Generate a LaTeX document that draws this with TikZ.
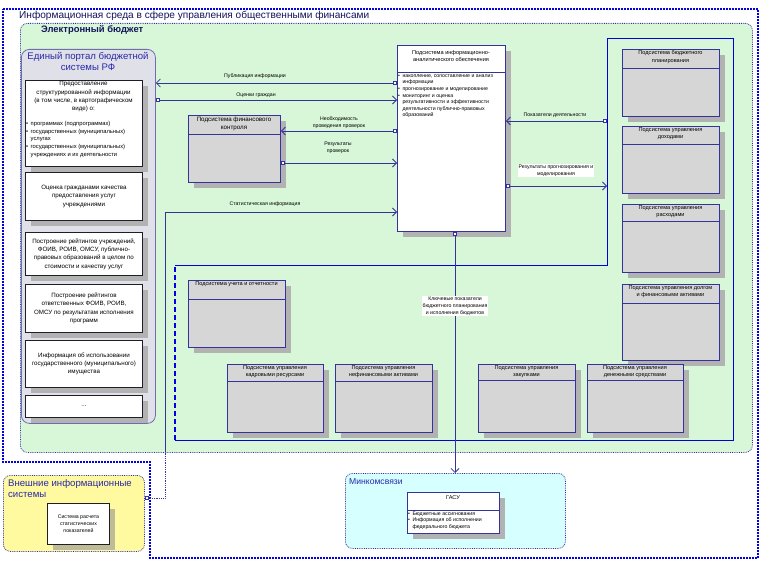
\documentclass[tikz,border=0pt]{standalone}
\usepackage{fontspec}
\setmainfont{Liberation Sans}
\usetikzlibrary{arrows.meta,shadows}

\definecolor{navy}{RGB}{51,51,153}
\definecolor{navyd}{RGB}{20,20,90}
\definecolor{framebl}{RGB}{0,0,225}
\definecolor{greenbg}{RGB}{216,247,216}
\definecolor{portalbg}{RGB}{224,224,232}
\definecolor{portalln}{RGB}{110,110,175}
\definecolor{subfill}{RGB}{214,214,214}
\definecolor{shadowc}{RGB}{178,178,178}
\definecolor{olivesh}{RGB}{190,188,150}
\definecolor{yellowbg}{RGB}{255,249,160}
\definecolor{cyanbg}{RGB}{214,255,255}
\definecolor{titleblue}{RGB}{40,40,170}
\definecolor{boxln}{RGB}{30,30,40}

\newcommand\titlef{\fontsize{10.1}{11}\selectfont}
\newcommand\ebf{\fontsize{9.4}{11}\selectfont\bfseries}
\newcommand\portalf{\fontsize{9.6}{11}\selectfont}
\newcommand\boxf{\fontsize{6.2}{8.3}\selectfont}
\newcommand\bulf{\fontsize{5.8}{7.7}\selectfont}
\newcommand\hdrf{\fontsize{5.6}{7.2}\selectfont}
\newcommand\lblf{\fontsize{5.2}{6.8}\selectfont}
\newcommand\iasf{\fontsize{5.2}{6.6}\selectfont}

\tikzset{
  sqm/.tip={Square[length=4pt,width=4pt,fill=white,line width=0.7pt]},
  brb/.tip={Straight Barb[length=4pt,width=8pt,line width=0.8pt]},
  conn/.style={draw=navy, line width=0.8pt},
  subbox/.style={draw=navy, line width=0.9pt, fill=subfill, inner sep=0pt,
    drop shadow={shadow xshift=6pt, shadow yshift=-6pt, fill=shadowc, opacity=1}},
  whitebox/.style={draw=boxln, line width=0.9pt, fill=white, inner sep=0pt,
    drop shadow={shadow xshift=6pt, shadow yshift=-6pt, fill=shadowc, opacity=1}},
  hdrline/.style={draw=navy, line width=0.8pt},
  hdr/.style={font=\hdrf, align=center, inner sep=1pt},
  boxtext/.style={font=\boxf, align=center, inner sep=0pt},
  lbl/.style={font=\lblf, align=center, inner sep=1pt},
  lblw/.style={lbl, fill=white},
  areabox/.style={draw=navy, densely dotted, line width=0.8pt, rounded corners=7pt, inner sep=0pt},
}

\newcommand\subsys[8][]{%
  \node[subbox, anchor=north west, minimum width=#5pt, minimum height=#6pt] (#2) at (#3,#4) {};
  \draw[hdrline] ({#3},{#4+#7}) -- ({#3+#5},{#4+#7});
  \node[hdr,#1,anchor=north] (#2-h) at ({#3+#5/2},{#4+0.5}) {#8};
}

\begin{document}
\begin{tikzpicture}[x=1pt,y=-1pt]
\useasboundingbox (0,0) rectangle (762,564);

% outer frame
\draw[framebl, line width=1.7pt, dash pattern=on 2pt off 1pt, fill=white]
  (3,9) -- (758,9) -- (758,558) -- (150,558) -- (150,462) -- (3,462) -- cycle;
\node[anchor=west, font=\titlef, text=navyd, inner sep=0pt] (envtitle) at (19,15.5)
  {Информационная среда в сфере управления общественными финансами};

% electronic budget area
\node[areabox, fill=greenbg, anchor=north west, minimum width=732pt, minimum height=429pt] (ebudget) at (20,23) {};
\node[anchor=west, font=\ebf, text=navyd, inner sep=0pt] (ebtitle) at (41,29.5) {Электронный бюджет};

% inner region
\draw[framebl, line width=0.9pt] (175,265) -- (607,265) -- (607,38) -- (733,38) -- (733,440) -- (175,440);
\draw[framebl, line width=1.1pt, dash pattern=on 5pt off 3pt] (175,440) -- (175,265);

% portal
\node[draw=portalln, line width=0.8pt, fill=portalbg, rounded corners=8pt, anchor=north west,
      minimum width=134pt, minimum height=374pt, inner sep=0pt] (portal) at (21,49) {};
\node[font=\portalf, text=titleblue, align=center, inner sep=0pt] (portaltitle) at (88,61.5)
  {Единый портал бюджетной\\системы РФ};

\node[whitebox, anchor=north west, minimum width=117pt, minimum height=86pt] (pb1) at (25,80) {};
\node[boxtext, anchor=north] (pb1t) at (83.5,81.5)
  {Предоставление\\структурированной информации\\(в том числе, в картографическом\\виде) о:};
\node[font=\bulf, anchor=north west, inner sep=0pt] (pb1list) at (26,120) {%
  \begin{tabular}{@{}l@{\hspace{2.5pt}}l@{}}
  \textbullet & программах (подпрограммах)\\
  \textbullet & государственных (муниципальных)\\
   & услугах\\
  \textbullet & государственных (муниципальных)\\
   & учреждениях и их деятельности
  \end{tabular}};

\node[whitebox, anchor=north west, minimum width=117pt, minimum height=48pt] (pb2) at (25,172) {};
\node[boxtext] (pb2t) at (pb2.center) {Оценка гражданами качества\\предоставления услуг\\учреждениями};
\node[whitebox, anchor=north west, minimum width=117pt, minimum height=43pt] (pb3) at (25,232) {};
\node[boxtext] (pb3t) at (pb3.center) {Построение рейтингов учреждений,\\ФОИВ, РОИВ, ОМСУ, публично-\\правовых образований в целом по\\стоимости и качеству услуг};
\node[whitebox, anchor=north west, minimum width=117pt, minimum height=48pt] (pb4) at (25,284) {};
\node[boxtext] (pb4t) at (pb4.center) {Построение рейтингов\\ответственных ФОИВ, РОИВ,\\ОМСУ по результатам исполнения\\программ};
\node[whitebox, anchor=north west, minimum width=117pt, minimum height=47pt] (pb5) at (25,340) {};
\node[boxtext] (pb5t) at (pb5.center) {Информация об использовании\\государственного (муниципального)\\имущества};
\node[whitebox, anchor=north west, minimum width=117pt, minimum height=22pt] (pb6) at (25,395) {};
\node[boxtext] (pb6t) at (pb6.center) {...};

% central analytic subsystem
\node[whitebox, draw=navy, anchor=north west, minimum width=108pt, minimum height=186pt] (ias) at (397,45) {};
\draw[hdrline] (397,72) -- (505,72);
\node[hdr, anchor=north] (ias-h) at (451,49) {Подсистема информационно-\\аналитического обеспечения};
\node[font=\iasf, anchor=north west, inner sep=0pt] (iaslist) at (398,72.5) {%
  \begin{tabular}{@{}l@{\hspace{2.5pt}}l@{}}
  \textbullet & накопление, сопоставление и анализ\\
   & информации\\
  \textbullet & прогнозирование и моделирование\\
  \textbullet & мониторинг и оценка\\
   & результативности и эффективности\\
   & деятельности публично-правовых\\
   & образований
  \end{tabular}};

% subsystems
\subsys[font=\boxf]{finctl}{188}{115}{92}{67}{19}{Подсистема финансового\\контроля}
\subsys{plan}{622}{49}{97}{67}{19}{Подсистема бюджетного\\планирования}
\subsys{income}{622}{126}{97}{67}{18}{Подсистема управления\\доходами}
\subsys{expense}{622}{204}{97}{68}{17}{Подсистема управления\\расходами}
\subsys{debt}{622}{284}{97}{76}{19}{Подсистема управления долгом\\и финансовыми активами}
\subsys{acct}{188}{280}{97}{67}{19}{Подсистема учета и отчетности}
\subsys{hr}{227}{364}{96}{68}{17}{Подсистема управления\\кадровыми ресурсами}
\subsys{nfa}{335}{364}{97}{68}{17}{Подсистема управления\\нефинансовыми активами}
\subsys{proc}{478}{364}{97}{68}{16}{Подсистема управления\\закупками}
\subsys{cash}{587}{364}{96}{68}{16}{Подсистема управления\\денежными средствами}

% external systems
\node[areabox, fill=yellowbg, anchor=north west, minimum width=141pt, minimum height=76pt] (extsys) at (3,475) {};
\node[font=\portalf, text=titleblue, align=left, anchor=north west, inner sep=0pt] (exttitle) at (8,479)
  {Внешние информационные\\системы};
\node[whitebox, drop shadow={shadow xshift=6pt, shadow yshift=-6pt, fill=olivesh, opacity=1},
      anchor=north west, minimum width=62pt, minimum height=41pt] (statsys) at (47,503) {};
\node[font=\lblf, align=center, inner sep=0pt] (statsyst) at (statsys.center) {Система расчета\\статистических\\показателей};

% Minkomsvyazi
\node[areabox, fill=cyanbg, anchor=north west, minimum width=220pt, minimum height=75pt] (minkom) at (345,473) {};
\node[font=\fontsize{8.6}{10}\selectfont, text=titleblue, anchor=west, inner sep=0pt] (minkomtitle) at (349,482) {Минкомсвязи};
\node[whitebox, draw=navy, anchor=north west, minimum width=92pt, minimum height=41pt] (gasu) at (407,492) {};
\draw[hdrline] (407,510) -- (499,510);
\node[hdr, anchor=north] (gasu-h) at (453,494) {ГАСУ};
\node[font=\iasf, anchor=north west, inner sep=0pt] (gasulist) at (408,510.5) {%
  \begin{tabular}{@{}l@{\hspace{2.5pt}}l@{}}
  \textbullet & Бюджетные ассигнования\\
  \textbullet & Информация об исполнении\\
   & федерального бюджета
  \end{tabular}};

% connectors
\coordinate (rrA) at (607,121);
\coordinate (rrB) at (607,186);
\draw[conn, sqm-brb] (ias.west |- 0,83) -- (portal.east |- 0,83);
\node[lbl] (l1) at (255,76) {Публикация информации};
\draw[conn, sqm-brb] (portal.east |- 0,100) -- (ias.west |- 0,100);
\node[lbl] (l2) at (256,95) {Оценки граждан};
\draw[conn, sqm-brb] (ias.west |- 0,131) -- (finctl.east |- 0,131);
\node[lbl] (l3) at (339,123) {Необходимость\\проведения проверок};
\draw[conn, sqm-brb] (finctl.east |- 0,163) -- (ias.west |- 0,163);
\node[lbl] (l4) at (338,148) {Результаты\\проверок};
\draw[conn, sqm-brb] (rrA) -- (ias.east |- rrA);
\node[lbl] (l5) at (555,115) {Показатели деятельности};
\draw[conn, sqm-brb] (ias.east |- rrB) -- (rrB);
\node[lblw] (l6) at (556,170.5) {Результаты прогнозирования и\\моделирования};

\coordinate (stA) at (165,498);
\coordinate (stB) at (165,452);
\coordinate (stC) at (165,212);
\draw[conn, densely dotted, sqm-] (extsys.east |- stA) -- (stA) -- (stB);
\draw[conn, -brb] (stB) -- (stC) -- (ias.west |- stC);
\node[lbl] (l7) at (265,204) {Статистическая информация};

\draw[conn, sqm-brb] (ias.south -| 455,0) -- (minkom.north -| 455,0);
\node[lblw] (l8) at (455,306) {Ключевые показатели\\бюджетного планирования\\и исполнения бюджетов};

\end{tikzpicture}
\end{document}
